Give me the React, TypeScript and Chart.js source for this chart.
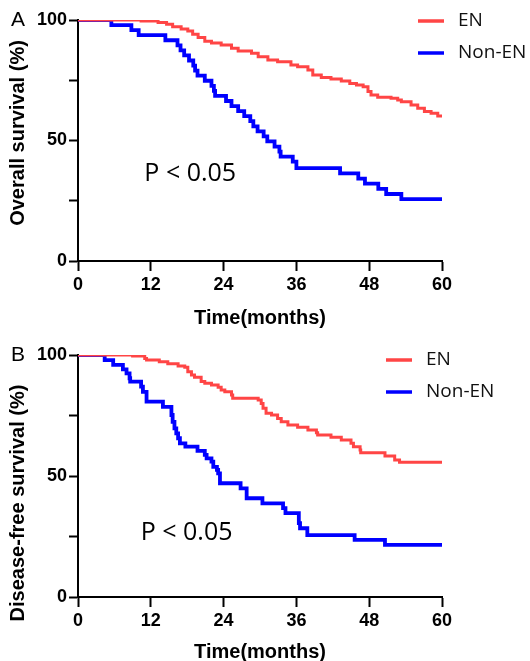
import React, { useEffect, useRef } from 'react';
import { Chart, registerables } from 'chart.js';

Chart.register(...registerables);

// ---------- data ----------
const seriesNames = ['EN', 'Non-EN'];
const seriesColors = ['#FF4545', '#0000FF'];
const seriesWidths = [3, 3.8];

const xTickValues = [0, 12, 24, 36, 48, 60];
const yTickLabels = [0, 50, 100];

// Panel A: Overall survival
const osEnMonths = [0, 10.4, 13.2, 14.6, 15.6, 17.0, 18.1, 18.9, 19.8, 20.9, 22.0, 23.6, 25.3, 26.4, 28.6, 29.7, 31.3, 32.9, 35.1, 36.2, 37.9, 38.7, 40.1, 41.7, 43.4, 44.8, 45.9, 47.0, 47.8, 48.3, 49.4, 51.6, 52.7, 53.3, 54.9, 56.0, 57.1, 58.2, 59.3, 60];
const osEnSurv = [100, 99.6, 99.0, 98.2, 97.2, 96.3, 95.4, 94.1, 92.7, 91.2, 90.5, 89.6, 88.3, 87.1, 86.2, 84.8, 83.4, 82.7, 81.3, 80.6, 79.3, 77.2, 76.1, 75.5, 74.7, 73.7, 73.0, 72.3, 70.3, 68.9, 67.9, 67.5, 66.8, 66.1, 64.7, 63.4, 62.0, 61.3, 60.2, 60.2];

const osNonEnMonths = [0, 5.5, 8.8, 10.0, 14.4, 16.4, 16.9, 17.5, 18.3, 19.0, 19.3, 19.7, 20.9, 22.0, 22.4, 22.6, 24.4, 25.3, 26.4, 27.4, 28.4, 28.9, 29.6, 30.6, 31.2, 32.4, 33.2, 33.4, 35.4, 36.0, 43.2, 46.2, 47.3, 49.5, 50.8, 53.3, 60];
const osNonEnSurv = [100, 97.9, 95.8, 93.7, 91.6, 89.5, 87.4, 85.3, 83.2, 81.1, 79.0, 76.9, 74.8, 72.7, 70.6, 68.5, 66.4, 64.3, 62.2, 60.1, 58.0, 55.9, 53.8, 51.7, 49.6, 47.5, 45.4, 43.3, 41.2, 38.5, 36.4, 34.2, 32.1, 29.9, 27.8, 25.7, 25.7];

// Panel B: Disease-free survival
const dfsEnMonths = [0, 9.0, 11.0, 11.3, 13.4, 14.8, 16.5, 17.6, 18.1, 18.7, 19.2, 20.3, 20.9, 22.0, 23.1, 23.6, 24.2, 25.3, 25.5, 29.7, 30.2, 30.5, 31.0, 31.9, 32.9, 33.5, 34.6, 36.2, 37.9, 39.3, 39.5, 41.7, 43.4, 45.0, 45.4, 46.5, 46.6, 50.6, 52.2, 53.0, 60];
const dfsEnSurv = [100, 99.6, 98.6, 97.9, 97.2, 96.4, 95.5, 94.9, 93.1, 91.7, 90.8, 89.0, 88.3, 87.6, 86.7, 85.5, 84.8, 83.5, 82.1, 81.4, 80.0, 78.0, 75.9, 75.2, 73.8, 72.4, 71.1, 70.1, 69.0, 67.9, 66.9, 66.0, 64.9, 63.5, 62.1, 60.7, 59.6, 58.3, 56.6, 55.7, 55.7];

const dfsNonEnMonths = [0, 4.4, 5.8, 7.4, 8.0, 8.5, 8.6, 10.4, 10.7, 11.3, 14.0, 15.4, 15.6, 15.9, 16.2, 16.5, 16.8, 17.7, 19.7, 20.9, 21.2, 22.0, 22.3, 22.9, 23.1, 23.4, 26.8, 27.8, 30.4, 33.8, 34.2, 36.4, 36.6, 37.8, 45.6, 50.6, 60];
const dfsNonEnSurv = [100, 97.9, 95.9, 94.1, 92.4, 90.4, 89.0, 86.9, 84.8, 80.7, 78.6, 75.2, 72.4, 69.7, 67.6, 65.6, 63.5, 62.1, 60.4, 58.7, 57.3, 55.9, 53.8, 52.5, 51.1, 47.0, 44.9, 40.8, 38.7, 36.7, 34.7, 30.5, 28.4, 25.6, 23.6, 21.5, 21.5];

const BOLD = 'Arial, "Liberation Sans", sans-serif';
const SANS = '"Open Sans", "Noto Sans", sans-serif';

const toPoints = (xs: number[], ys: number[]) => xs.map((x, i) => ({ x, y: ys[i] }));

const annotPlugin = {
  id: 'annot',
  afterDraw(chart: any, _args: any, opts: any) {
    const { ctx, chartArea, scales } = chart;
    ctx.save();
    ctx.fillStyle = '#000';
    // panel letter
    ctx.font = `21px ${BOLD}`;
    ctx.textAlign = 'left';
    ctx.textBaseline = 'middle';
    ctx.fillText(opts.letter, opts.letterX, chartArea.top + opts.letterDy);
    // y-axis title
    ctx.save();
    ctx.translate(opts.titleX, chartArea.top + opts.titleDy);
    ctx.rotate(-Math.PI / 2);
    ctx.font = `bold 20px ${BOLD}`;
    ctx.textAlign = 'center';
    ctx.textBaseline = 'middle';
    ctx.fillText(opts.yTitle, 0, 0);
    ctx.restore();
    // P value
    ctx.font = `25px ${SANS}`;
    ctx.textAlign = 'center';
    ctx.textBaseline = 'middle';
    ctx.fillText(opts.pText, scales.x.getPixelForValue(opts.pAt[0]), scales.y.getPixelForValue(opts.pAt[1]));
    // legend
    chart.data.datasets.forEach((ds: any, i: number) => {
      const y = chartArea.top + opts.legendDy + i * opts.legendGap;
      const x0 = chartArea.right + opts.legendDx;
      ctx.strokeStyle = ds.borderColor;
      ctx.lineWidth = 3.5;
      ctx.beginPath();
      ctx.moveTo(x0, y);
      ctx.lineTo(x0 + 26, y);
      ctx.stroke();
      ctx.fillStyle = '#111';
      ctx.font = `19px ${SANS}`;
      ctx.textAlign = 'left';
      ctx.textBaseline = 'middle';
      ctx.fillText(ds.label, x0 + 40, y);
    });
    ctx.restore();
  },
};

function makeConfig(series: { x: number[]; y: number[] }[], xAxisHeight: number, xTitlePad: number, annot: any) {
  return {
    type: 'line' as const,
    data: {
      datasets: series.map((s, i) => ({
        label: seriesNames[i],
        data: toPoints(s.x, s.y),
        borderColor: seriesColors[i],
        backgroundColor: seriesColors[i],
        borderWidth: seriesWidths[i],
        pointRadius: 0,
        stepped: 'before' as const,
        fill: false,
        borderCapStyle: 'butt' as const,
      })),
    },
    options: {
      animation: false as const,
      responsive: false,
      devicePixelRatio: 1,
      layout: { padding: { top: 20, right: 88, left: 0, bottom: 0 } },
      plugins: { legend: { display: false }, tooltip: { enabled: false }, annot },
      scales: {
        x: {
          type: 'linear' as const,
          min: 0,
          max: 60,
          afterBuildTicks: (scale: any) => {
            scale.ticks = xTickValues.map((v) => ({ value: v }));
          },
          afterFit: (scale: any) => {
            scale.height = xAxisHeight;
          },
          ticks: { color: '#000', font: { family: BOLD, size: 18, weight: 'bold' as const }, padding: 3, maxRotation: 0 },
          grid: { drawOnChartArea: false, drawTicks: true, tickLength: 10, tickWidth: 2, tickColor: '#000' },
          border: { color: '#000', width: 2 },
          title: { display: true, text: 'Time(months)', color: '#000', font: { family: BOLD, size: 20, weight: 'bold' as const }, padding: { top: 0, bottom: xTitlePad } },
        },
        y: {
          type: 'linear' as const,
          min: 0,
          max: 100,
          ticks: {
            stepSize: 25,
            color: '#000',
            font: { family: BOLD, size: 18, weight: 'bold' as const },
            padding: 2,
            callback: (v: any) => (yTickLabels.includes(v) ? String(v) : ''),
          },
          afterFit: (scale: any) => {
            scale.width = 78;
          },
          grid: { drawOnChartArea: false, drawTicks: true, tickLength: 9, tickWidth: 2, tickColor: '#000' },
          border: { color: '#000', width: 2 },
        },
      },
    },
    plugins: [annotPlugin],
  };
}

function Panel({ width, height, config }: { width: number; height: number; config: any }) {
  const ref = useRef<HTMLCanvasElement | null>(null);
  useEffect(() => {
    if (!ref.current) return;
    const chart = new Chart(ref.current, config);
    return () => chart.destroy();
  }, [config]);
  return <canvas ref={ref} width={width} height={height} style={{ display: 'block', width, height }} />;
}

const configA = makeConfig(
  [
    { x: osEnMonths, y: osEnSurv },
    { x: osNonEnMonths, y: osNonEnSurv },
  ],
  74,
  5,
  { letter: 'A', letterX: 11, letterDy: 0, yTitle: 'Overall survival (%)', titleX: 18, titleDy: 113, pText: 'P < 0.05', pAt: [18.5, 36], legendDx: -24, legendDy: 1, legendGap: 32 }
);

const configB = makeConfig(
  [
    { x: dfsEnMonths, y: dfsEnSurv },
    { x: dfsNonEnMonths, y: dfsNonEnSurv },
  ],
  64,
  -3,
  { letter: 'B', letterX: 11, letterDy: 0, yTitle: 'Disease-free survival (%)', titleX: 18, titleDy: 148, pText: 'P < 0.05', pAt: [17.9, 26.7], legendDx: -56, legendDy: 5, legendGap: 32 }
);

export default function App() {
  return (
    <div style={{ position: 'absolute', left: 0, top: 0, width: 530, height: 661, background: '#fff' }}>
      <Panel width={530} height={335} config={configA} />
      <Panel width={530} height={326} config={configB} />
    </div>
  );
}
